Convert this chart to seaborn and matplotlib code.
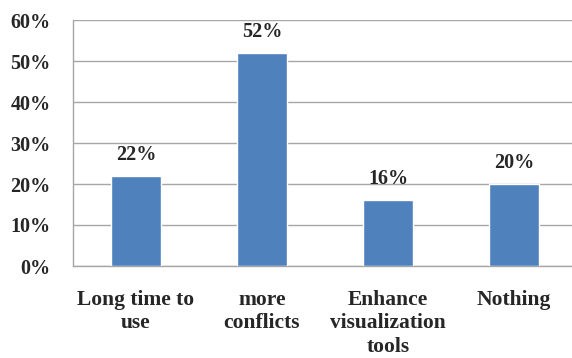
import matplotlib
matplotlib.use("Agg")
import matplotlib.pyplot as plt
import seaborn as sns
import pandas as pd
from matplotlib.ticker import PercentFormatter, FixedLocator

categories = ["Long time to\nuse", "more\nconflicts", "Enhance\nvisualization\ntools", "Nothing"]
values = [22, 52, 16, 20]
yticks = [0, 10, 20, 30, 40, 50, 60]

sns.set_style("white")
plt.rcParams['font.family'] = ['Liberation Serif', 'DejaVu Serif']
plt.rcParams['font.weight'] = 'bold'

df = pd.DataFrame({'category': categories, 'value': values})

fig = plt.figure(figsize=(5.72, 3.58), dpi=100)
ax = fig.add_axes([73 / 572, 1 - 266 / 358, 504 / 572, 246 / 358])

sns.barplot(data=df, x='category', y='value', color='#4F81BD', width=0.4,
            saturation=1, ax=ax, zorder=3)

ax.set_ylim(0, 60)
ax.set_xlim(-0.5, 3.5)
ax.set_yticks(yticks)
ax.yaxis.set_major_formatter(PercentFormatter(decimals=0))
ax.grid(axis='y', color='#A6A6A6', linewidth=1, zorder=0)
ax.set_axisbelow(True)

for s in ['top', 'right']:
    ax.spines[s].set_visible(False)
for s in ['left', 'bottom']:
    ax.spines[s].set_color('#A6A6A6')
    ax.spines[s].set_linewidth(1)

ax.tick_params(axis='y', length=6, width=1, color='#A6A6A6', pad=10, labelsize=14.5)
ax.tick_params(axis='x', which='major', length=0, pad=17, labelsize=15.5)
ax.xaxis.set_minor_locator(FixedLocator([-0.5, 0.5, 1.5, 2.5, 3.5]))
ax.tick_params(axis='x', which='minor', length=6, width=1, color='#A6A6A6')

for lbl in ax.get_xticklabels() + ax.get_yticklabels():
    lbl.set_fontweight('bold')
for lbl in ax.get_xticklabels():
    lbl.set_linespacing(1.25)
    lbl.set_verticalalignment('top')

ax.set_xlabel('')
ax.set_ylabel('')

for i, v in enumerate(values):
    ax.annotate(f'{v}%', (i, v), xytext=(0, 8), textcoords='offset points',
                ha='center', va='bottom', fontsize=14.5, fontweight='bold')

fig.savefig('out.png', dpi=100)
